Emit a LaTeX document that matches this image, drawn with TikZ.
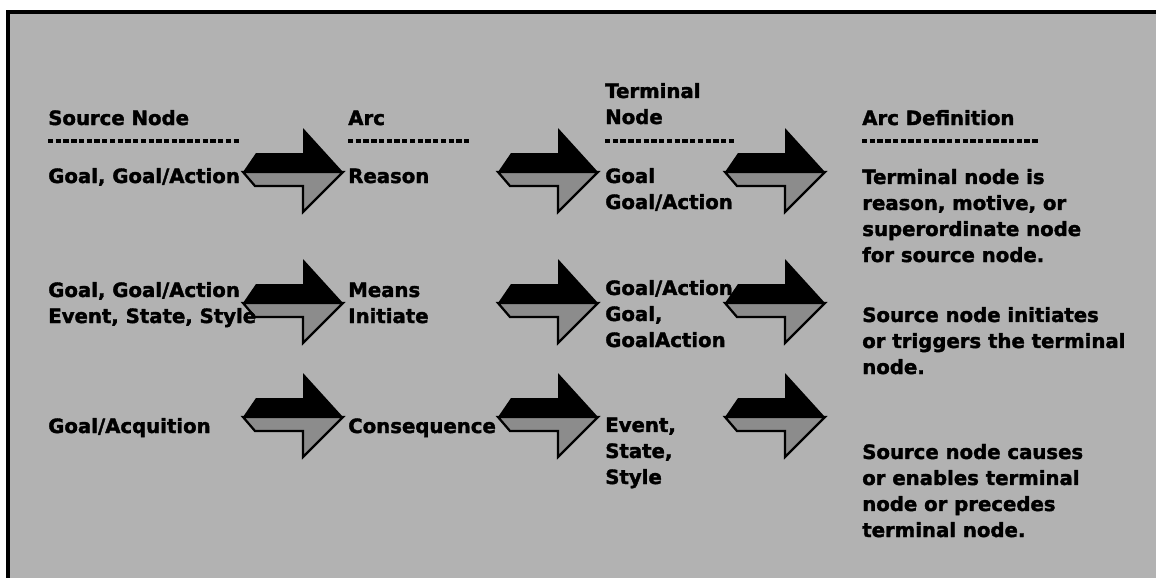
\documentclass[tikz,border=0pt]{standalone}
\usepackage{fontspec}
\setmainfont{DejaVu Sans}[BoldFeatures={FakeBold=1.8}]
\usetikzlibrary{positioning}

\tikzset{
  lbl/.style={anchor=base west, inner sep=0pt, align=left,
    font=\bfseries\fontsize{14}{18.5}\selectfont},
  dotrule/.style={line width=3.4pt, dash pattern=on 3.8pt off 1.7pt},
  arrowtop/.style={fill=black},
  arrowbot/.style={fill=black!45, draw=black, line width=1.6pt, line join=miter},
}

\begin{document}
\begin{tikzpicture}[x=0.025cm, y=-0.025cm]
\useasboundingbox (0,0) rectangle (1156,578);
% panel
\fill[black!30] (8,12) rectangle (1160,582);
\draw[line width=2.6pt] (8,582) -- (8,12) -- (1160,12);

% block arrows
\foreach \cy in {172,303,417}{
  \foreach \cx in {293,548,775}{
    \filldraw[arrowbot] (\cx-50,\cy) -- (\cx+50,\cy) -- (\cx+10,\cy+40) -- (\cx+10,\cy+14) -- (\cx-38,\cy+14) -- cycle;
    \fill[arrowtop] (\cx-50,\cy) -- (\cx-37,\cy-19) -- (\cx+10,\cy-19) -- (\cx+10,\cy-44) -- (\cx+50,\cy) -- cycle;
  }
}

% headers (multi-line nodes sit on their last line)
\node[lbl] (hsrc) at (48,125) {Source Node};
\node[lbl] (harc) at (348,125) {Arc};
\node[lbl] (hterm) at (605,124) {Terminal\\Node};
\node[lbl] (hdef) at (862,125) {Arc Definition};
\draw[dotrule] (48,141) -- (240,141);
\draw[dotrule] (348,141) -- (470,141);
\draw[dotrule] (605,141) -- (735,141);
\draw[dotrule] (862,141) -- (1039,141);

% row 1
\node[lbl] (src1) at (48,183) {Goal, Goal/Action};
\node[lbl] (arc1) at (348,183) {Reason};
\node[lbl] (term1) at (605,209) {Goal\\Goal/Action};
\node[lbl] (def1) at (862,262) {Terminal node is\\reason, motive, or\\superordinate node\\for source node.};

% row 2
\node[lbl] (src2) at (48,323) {Goal, Goal/Action\\Event, State, Style};
\node[lbl] (arc2) at (348,323) {Means\\Initiate};
\node[lbl] (term2) at (605,347) {Goal/Action\\Goal,\\GoalAction};
\node[lbl] (def2) at (862,374) {Source node initiates\\or triggers the terminal\\node.};

% row 3
\node[lbl] (src3) at (48,433) {Goal/Acquition};
\node[lbl] (arc3) at (348,433) {Consequence};
\node[lbl] (term3) at (605,484) {Event,\\State,\\Style};
\node[lbl] (def3) at (862,537) {Source node causes\\or enables terminal\\node or precedes\\terminal node.};
\end{tikzpicture}
\end{document}
